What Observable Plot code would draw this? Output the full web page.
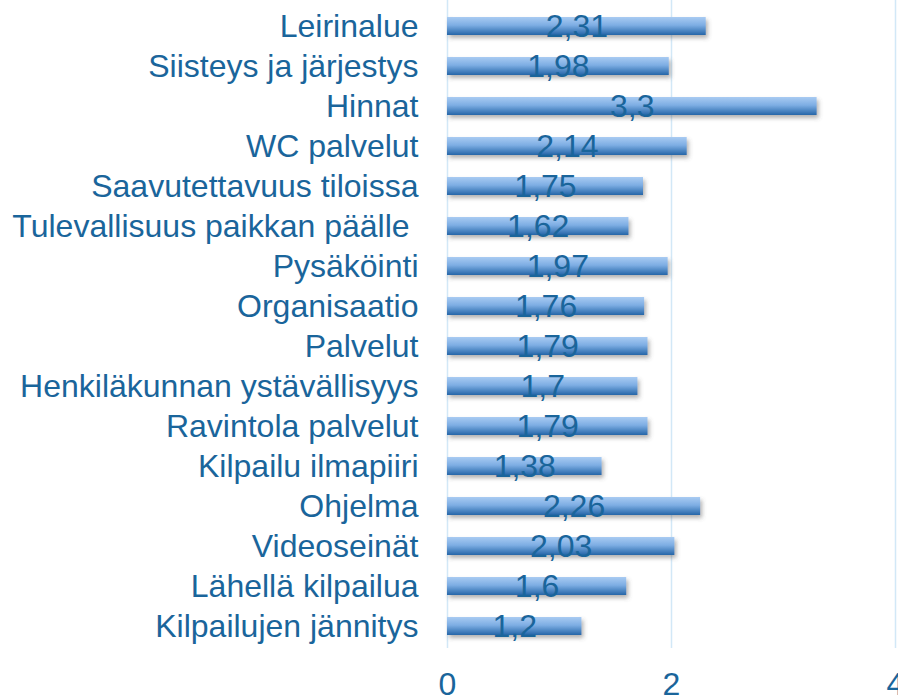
<!DOCTYPE html>
<html>
<head>
<meta charset="utf-8">
<script src="https://cdn.jsdelivr.net/npm/d3@7"></script>
<script src="https://cdn.jsdelivr.net/npm/@observablehq/plot@0.6"></script>
<style>
  html, body { margin: 0; padding: 0; background: #fff; }
</style>
</head>
<body>
<div id="chart"></div>
<script>
const categories = [
  "Leirinalue",
  "Siisteys ja järjestys",
  "Hinnat",
  "WC palvelut",
  "Saavutettavuus tiloissa",
  "Tulevallisuus paikkan päälle ",
  "Pysäköinti",
  "Organisaatio",
  "Palvelut",
  "Henkiläkunnan ystävällisyys",
  "Ravintola palvelut",
  "Kilpailu ilmapiiri",
  "Ohjelma",
  "Videoseinät",
  "Lähellä kilpailua",
  "Kilpailujen jännitys"
];
const values = [2.31, 1.98, 3.3, 2.14, 1.75, 1.62, 1.97, 1.76, 1.79, 1.7, 1.79, 1.38, 2.26, 2.03, 1.6, 1.2];
const xTicks = [0, 2, 4];

const data = categories.map((c, i) => ({category: c, value: values[i]}));
const fmt = v => String(v).replace(".", ",");
const textColor = "#1a659b";

const chart = Plot.plot({
  width: 898,
  height: 697,
  marginLeft: 447,
  marginRight: 3,
  marginTop: 0,
  marginBottom: 49,
  style: {fontFamily: "Liberation Sans, Arial, sans-serif", color: textColor, background: "#fff"},
  x: {domain: [0, 4], ticks: xTicks},
  y: {type: "band", domain: categories, range: [4, 647.2], padding: 0},
  marks: [
    Plot.ruleX(xTicks, {stroke: "#d2e8f7", strokeWidth: 1.5}),
    Plot.barX(data, {x: "value", y: "category", fill: "url(#barGrad)", insetTop: 11, insetBottom: 11}),
    Plot.text(data, {x: d => d.value / 2, y: "category", text: d => fmt(d.value), fill: textColor, fontSize: 32, textAnchor: "middle"}),
    Plot.axisY({tickSize: 0, tickPadding: 29, fontSize: 32, fill: textColor, label: null,
      tickFormat: d => d.replace(/ $/, "\u00a0")}),
    Plot.axisX({ticks: xTicks, tickSize: 0, tickPadding: 24, fontSize: 32, fill: textColor, label: null,
      tickFormat: d => String(d)})
  ]
});

const svg = d3.select(chart);
const defs = svg.insert("defs", ":first-child");
const grad = defs.append("linearGradient").attr("id", "barGrad")
  .attr("x1", 0).attr("y1", 0).attr("x2", 0).attr("y2", 1);
grad.append("stop").attr("offset", "0%").attr("stop-color", "#a9cbf2");
grad.append("stop").attr("offset", "45%").attr("stop-color", "#7eaee4");
grad.append("stop").attr("offset", "100%").attr("stop-color", "#2566a8");
const filt = defs.append("filter").attr("id", "barShadow")
  .attr("x", "-5%").attr("y", "-30%").attr("width", "115%").attr("height", "190%");
filt.append("feDropShadow").attr("dx", 2).attr("dy", 3).attr("stdDeviation", 2)
  .attr("flood-color", "#555").attr("flood-opacity", 0.45);
svg.selectAll('g[aria-label="bar"]').attr("filter", "url(#barShadow)");

document.getElementById("chart").appendChild(chart);
</script>
</body>
</html>
